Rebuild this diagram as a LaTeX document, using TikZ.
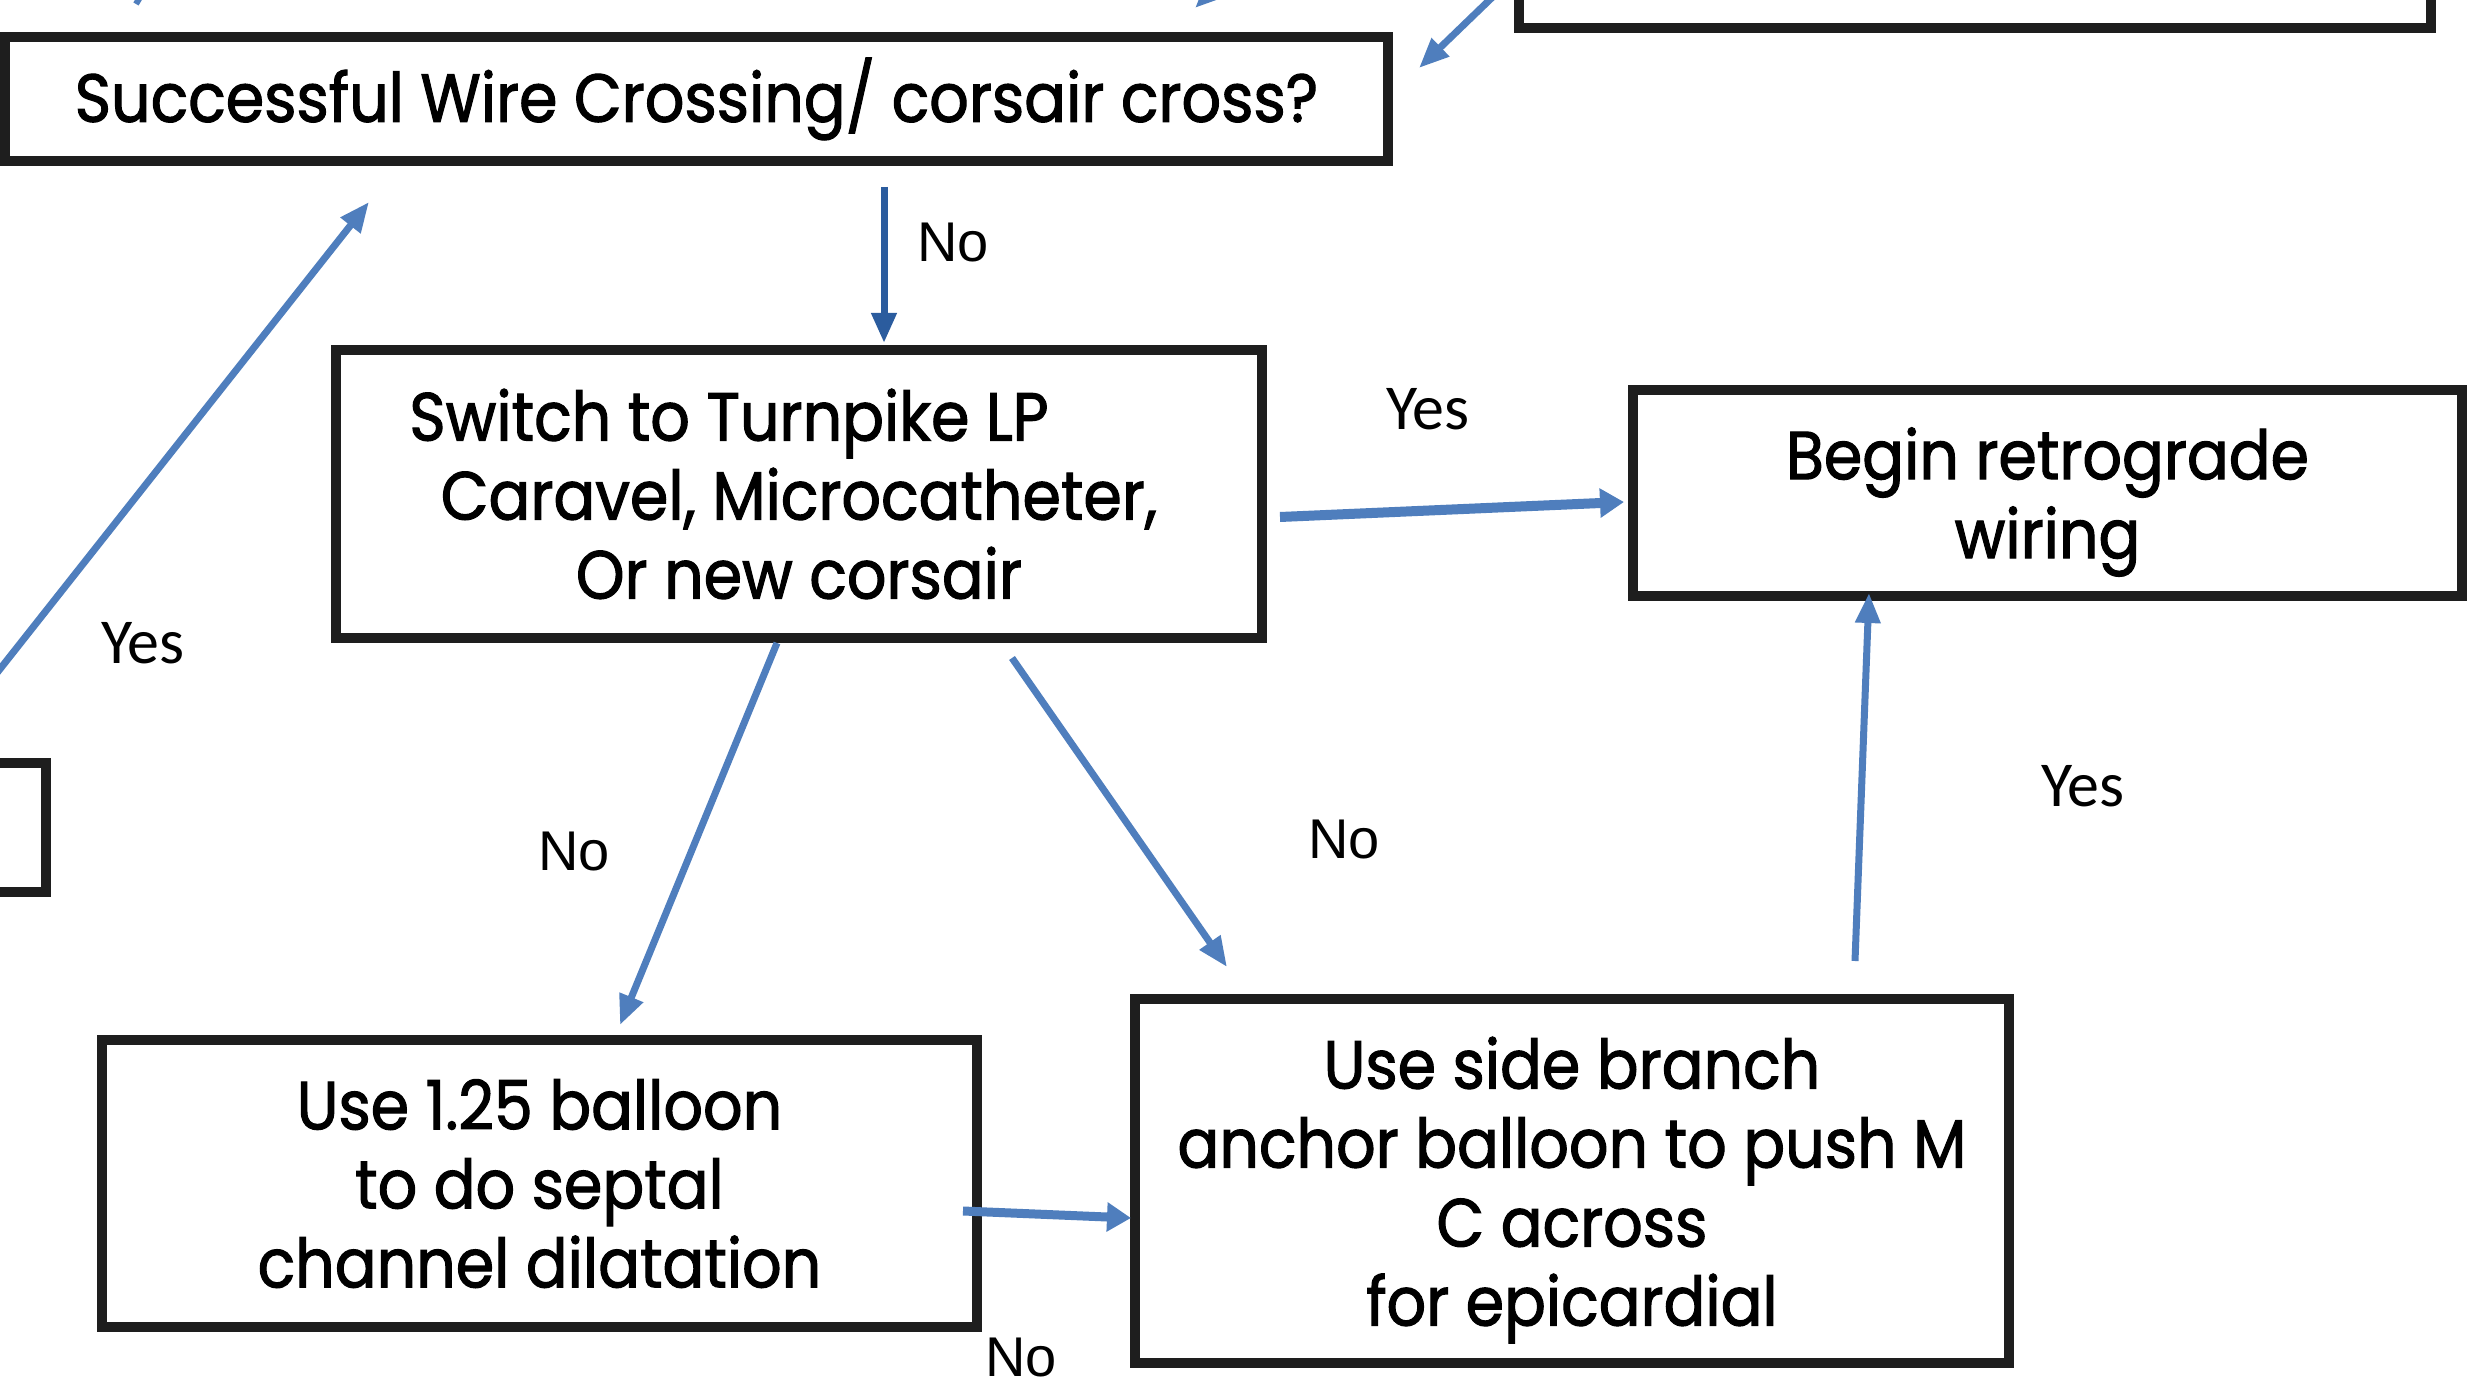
\documentclass[tikz,border=0pt]{standalone}
\usepackage{fontspec}
\newfontfamily\boxfont{Poppins}[FakeStretch=0.91,FakeBold=1.6]
\newfontfamily\lblfont{Liberation Sans}
\newfontfamily\yesfont{Carlito}
\usetikzlibrary{arrows.meta}
\definecolor{arrowblue}{HTML}{4F7EBD}
\definecolor{darkblue}{HTML}{2B5C9E}
\definecolor{boxline}{HTML}{1E1E1E}
\tikzset{
  box/.style={draw=boxline, line width=5pt, fill=white, align=center, inner sep=0pt,
    font=\boxfont\fontsize{34}{39.5}\selectfont},
  boxtext/.style={align=center, inner sep=0pt, font=\boxfont\fontsize{34}{39.5}\selectfont},
  flow/.style={draw=arrowblue, line width=3.5pt, -{Triangle[length=15pt,width=12pt]}},
  thickflow/.style={draw=arrowblue, line width=5pt, -{Triangle[length=12pt,width=14pt]}},
  darkflow/.style={draw=darkblue, line width=3.5pt, -{Triangle[length=15pt,width=12pt]}},
  nolbl/.style={inner sep=0pt, font=\lblfont\fontsize{28}{30}\selectfont},
  yeslbl/.style={inner sep=0pt, font=\yesfont\fontsize{32}{34}\selectfont},
}
\begin{document}
\begin{tikzpicture}[x=0.5pt,y=-0.5pt]
\useasboundingbox (0,0) rectangle (2470,1390);
\clip (0,0) rectangle (2470,1390);
\fill[white] (0,0) rectangle (2470,1390);

% boxes
\node[box, minimum width=456pt, minimum height=100pt] (TR) at (1975,-72) {};
\node[box, minimum width=200pt, minimum height=64.5pt] (L) at (-154,827.5) {};
\node[box, minimum width=691.5pt, minimum height=62pt] (A) at (696.5,99)
  {Successful Wire Crossing/ corsair cross?};
\node[box, minimum width=463pt, minimum height=144pt] (B) at (799,494)
  {Switch to Turnpike LP\hspace*{70pt}\\Caravel, Microcatheter,\\Or new corsair};
\node[box, minimum width=414.5pt, minimum height=103pt] (C) at (2047.5,493) {};
\node[boxtext] (Ct) at (2047.5,502) {Begin retrograde\\wiring};
\node[box, minimum width=437.5pt, minimum height=143.5pt] (D) at (539.5,1183.5)
  {Use 1.25 balloon\\to do septal\\channel dilatation};
\node[box, minimum width=437pt, minimum height=182pt] (E) at (1572,1181) {};
\node[boxtext] (Et) at (1572,1190)
  {Use side branch\\anchor balloon to push M\\C across\\for epicardial};

% free ends
\coordinate (topin) at (1560,-68);
\coordinate (topin2) at (1255,-50);
\coordinate (topend2) at (1195,8);
\coordinate (topin3) at (165,-45);
\coordinate (topend3) at (136,4);

% connectors
\draw[darkflow] ([xshift=93.75pt,yshift=-10.5pt]A.south) -- ([xshift=42.5pt,yshift=1pt]B.north);
\draw[thickflow] ([xshift=6.5pt,yshift=-11.5pt]B.east) -- ([xshift=-2pt,yshift=-4.5pt]C.west);
\draw[flow] ([xshift=-11pt]B.south) -- ([xshift=40.25pt,yshift=5pt]D.north);
\draw[flow] ([xshift=106.5pt,yshift=-7.5pt]B.south) -- ([xshift=-172.5pt,yshift=13.5pt]E.north);
\draw[flow] ([xshift=141.5pt,yshift=16.5pt]E.north) -- ([xshift=-89.25pt,yshift=4pt]C.south);
\draw[thickflow, line width=4.5pt] ([xshift=-9.5pt,yshift=-13.75pt]D.east) -- ([xshift=0.5pt,yshift=-18.5pt]E.west);
\draw[flow] ([xshift=47pt,yshift=6.5pt]L.north) -- ([xshift=-163.75pt,yshift=-18pt]A.south);
\draw[flow] (topin) -- ([xshift=13pt,yshift=15.5pt]A.east);
\draw[flow] (topin2) -- (topend2);
\draw[draw=arrowblue, line width=3pt] (topin3) -- (topend3);

% labels
\node[nolbl] (l1) at (953,243) {No};
\node[yeslbl] (l2) at (1428,409) {Yes};
\node[yeslbl] (l3) at (143,643) {Yes};
\node[nolbl] (l4) at (574,852) {No};
\node[nolbl] (l5) at (1344,840) {No};
\node[yeslbl] (l6) at (2083,786) {Yes};
\node[nolbl] (l7) at (1021,1358) {No};
\end{tikzpicture}
\end{document}
